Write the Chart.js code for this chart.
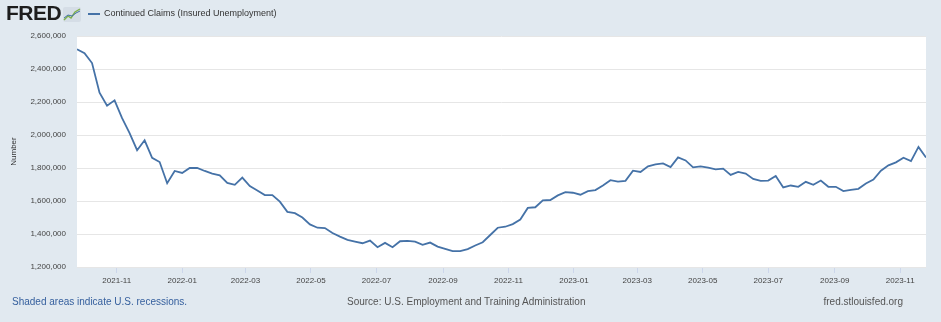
<!DOCTYPE html>
<html>
<head>
<meta charset="utf-8">
<script src="https://cdn.jsdelivr.net/npm/chart.js@4"></script>
<style>
  body { margin: 0; background: #e1e9f0; font-family: 'Liberation Sans', Arial, sans-serif; }
  #quadro { position: relative; width: 941px; height: 322px; overflow: hidden; }
  #grafico { position: absolute; left: 0; top: 0; }
  .logo { position: absolute; left: 6px; top: 1px; font: bold 21px 'Liberation Sans', Arial, sans-serif; color: #1d1d1d; letter-spacing: -0.5px; }
  .icone { position: absolute; left: 63px; top: 7px; }
  .traco { position: absolute; left: 88px; top: 13px; width: 12px; height: 2px; background: #4572a7; }
  .legenda { position: absolute; left: 104px; top: 8px; font-size: 9px; color: #333; white-space: nowrap; }
  .rodape { position: absolute; top: 296px; font-size: 10px; color: #555; white-space: nowrap; }
</style>
</head>
<body>
<div id="quadro">
  <canvas id="grafico" width="941" height="322"></canvas>
  <div class="logo">FRED</div>
  <svg class="icone" width="18" height="15" viewBox="0 0 18 15">
    <rect x="0" y="0" width="18" height="15" rx="2" fill="#d5dde6"/>
    <polyline points="1,13 5,9 8,11 12,5 17,2" fill="none" stroke="#7fb24a" stroke-width="1.4"/>
    <polyline points="1,11 5,8 9,9 13,6 17,4" fill="none" stroke="#4572a7" stroke-width="1"/>
  </svg>
  <span class="traco"></span>
  <div class="legenda">Continued Claims (Insured Unemployment)</div>
  <div class="rodape" style="left:12px;color:#36609e">Shaded areas indicate U.S. recessions.</div>
  <div class="rodape" style="left:347px">Source: U.S. Employment and Training Administration</div>
  <div class="rodape" style="right:38px">fred.stlouisfed.org</div>
</div>
<script>
// semanas terminando no sábado, a partir desta data
const inicioSerie = '2021-09-25';

// pedidos continuados
const valores = [
  2520000, 2496000, 2436000, 2256000, 2178000, 2210000, 2102000, 2012000, 1908000, 1968000,
  1862000, 1836000, 1708000, 1782000, 1770000, 1800000, 1800000, 1782000, 1766000, 1756000,
  1710000, 1698000, 1742000, 1690000, 1664000, 1636000, 1636000, 1596000, 1534000, 1526000,
  1500000, 1458000, 1438000, 1436000, 1406000, 1384000, 1364000, 1354000, 1344000, 1360000,
  1320000, 1346000, 1320000, 1356000, 1358000, 1354000, 1334000, 1348000, 1324000, 1310000,
  1296000, 1296000, 1308000, 1330000, 1350000, 1394000, 1438000, 1444000, 1460000, 1488000,
  1558000, 1562000, 1604000, 1606000, 1634000, 1654000, 1650000, 1638000, 1660000, 1666000,
  1694000, 1726000, 1718000, 1722000, 1784000, 1776000, 1810000, 1822000, 1828000, 1806000,
  1864000, 1846000, 1804000, 1810000, 1802000, 1792000, 1796000, 1758000, 1776000, 1766000,
  1734000, 1722000, 1724000, 1752000, 1682000, 1694000, 1686000, 1716000, 1698000, 1724000,
  1686000, 1686000, 1660000, 1668000, 1674000, 1706000, 1730000, 1784000, 1816000, 1834000,
  1862000, 1842000, 1928000, 1864000
];

const datas = valores.map((_, i) =>
  new Date(Date.parse(inicioSerie) + i * 7 * 86400000).toISOString().slice(0, 10));

const rotulosX = ['2021-11', '2022-01', '2022-03', '2022-05', '2022-07', '2022-09', '2022-11',
  '2023-01', '2023-03', '2023-05', '2023-07', '2023-09', '2023-11'];
const rotulosY = [1200000, 1400000, 1600000, 1800000, 2000000, 2200000, 2400000, 2600000];

const fundoBranco = {
  id: 'fundoBranco',
  beforeDraw(chart) {
    const { ctx, chartArea: a } = chart;
    ctx.save();
    ctx.fillStyle = '#ffffff';
    ctx.fillRect(a.left, a.top, a.right - a.left, a.bottom - a.top);
    ctx.restore();
  }
};

const fonteEixo = { family: "'Liberation Sans', Arial, sans-serif", size: 8 };

new Chart(document.getElementById('grafico'), {
  type: 'line',
  data: {
    datasets: [{
      label: 'Continued Claims (Insured Unemployment)',
      data: datas.map((d, i) => ({ x: Date.parse(d), y: valores[i] })),
      borderColor: '#4572a7',
      borderWidth: 1.8,
      pointRadius: 0,
      tension: 0,
      fill: false
    }]
  },
  options: {
    responsive: false,
    devicePixelRatio: 1,
    animation: false,
    layout: { padding: { top: 36, right: 15, left: 0, bottom: 0 } },
    plugins: { legend: { display: false }, tooltip: { enabled: false } },
    scales: {
      x: {
        type: 'linear',
        min: Date.parse(datas[0]),
        max: Date.parse(datas[datas.length - 1]),
        afterBuildTicks: (eixo) => { eixo.ticks = rotulosX.map(m => ({ value: Date.parse(m + '-01') })); },
        afterFit: (eixo) => { eixo.height = 55; },
        border: { display: false },
        grid: { drawOnChartArea: false, drawTicks: true, tickLength: 6, color: '#ccd6eb' },
        ticks: {
          autoSkip: false, maxRotation: 0, padding: 3, color: '#444', font: fonteEixo,
          callback: (v) => new Date(v).toISOString().slice(0, 7)
        }
      },
      y: {
        min: 1200000,
        max: 2600000,
        afterBuildTicks: (eixo) => { eixo.ticks = rotulosY.map(v => ({ value: v })); },
        afterFit: (eixo) => { eixo.width = 77; },
        border: { display: false },
        grid: { color: '#e6e6e6', drawTicks: false },
        ticks: {
          padding: 11, color: '#444', font: fonteEixo,
          callback: (v) => v.toLocaleString('en-US')
        },
        title: {
          display: true, text: 'Number', color: '#333',
          font: { family: "'Liberation Sans', Arial, sans-serif", size: 8 },
          padding: { top: 9, bottom: 0 }
        }
      }
    }
  },
  plugins: [fundoBranco]
});
</script>
</body>
</html>
